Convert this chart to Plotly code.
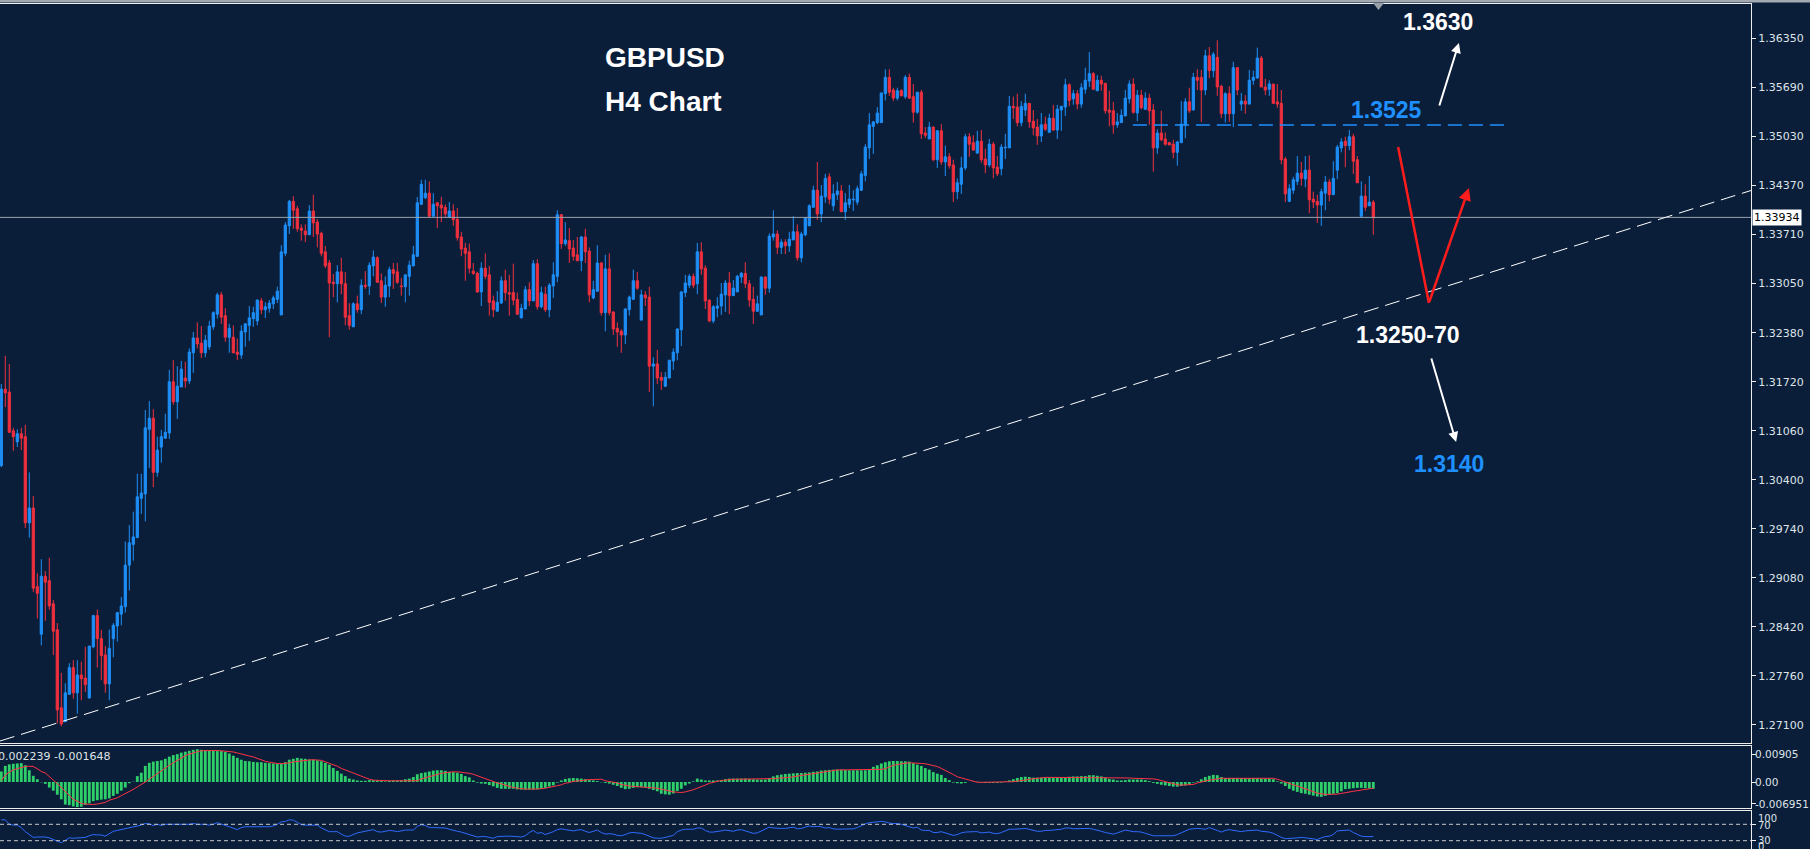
import plotly.graph_objects as go

# ---------------- data (H4 candles) ----------------
OPEN = [1.3059,1.3162,1.3158,1.3106,1.3091,1.3102,1.3098,1.2982,1.3002,1.2896,
 1.2832,1.2910,1.2904,1.2873,1.2838,1.2733,1.2714,1.2751,1.2787,1.2753,
 1.2777,1.2773,1.2746,1.2815,1.2857,1.2826,1.2804,1.2765,1.2826,1.2843,
 1.2859,1.2869,1.2925,1.2953,1.2962,1.3015,1.3021,1.3108,1.3123,1.3050,
 1.3084,1.3096,1.3103,1.3172,1.3145,1.3165,1.3177,1.3173,1.3211,1.3231,
 1.3224,1.3211,1.3219,1.3246,1.3263,1.3289,1.3261,1.3232,1.3232,1.3212,
 1.3208,1.3239,1.3248,1.3257,1.3254,1.3281,1.3269,1.3271,1.3277,1.3283,
 1.3262,1.3345,1.3382,1.3415,1.3405,1.3379,1.3375,1.3370,1.3402,1.3387,
 1.3372,1.3347,1.3332,1.3306,1.3304,1.3320,1.3304,1.3261,1.3246,1.3277,
 1.3269,1.3302,1.3301,1.3328,1.3339,1.3308,1.3286,1.3301,1.3323,1.3320,
 1.3301,1.3300,1.3314,1.3328,1.3341,1.3411,1.3420,1.3426,1.3395,1.3413,
 1.3410,1.3407,1.3394,1.3402,1.3391,1.3367,1.3352,1.3347,1.3321,1.3318,
 1.3293,1.3325,1.3316,1.3281,1.3267,1.3278,1.3308,1.3292,1.3292,1.3283,
 1.3258,1.3270,1.3296,1.3281,1.3331,1.3273,1.3290,1.3269,1.3301,1.3314,
 1.3397,1.3358,1.3362,1.3352,1.3343,1.3335,1.3367,1.3348,1.3285,1.3294,
 1.3332,1.3265,1.3324,1.3266,1.3244,1.3240,1.3235,1.3269,1.3283,1.3308,
 1.3255,1.3289,1.3286,1.3193,1.3196,1.3178,1.3166,1.3177,1.3200,1.3211,
 1.3242,1.3292,1.3302,1.3314,1.3304,1.3347,1.3325,1.3282,1.3254,1.3271,
 1.3274,1.3289,1.3305,1.3288,1.3293,1.3313,1.3318,1.3304,1.3283,1.3267,
 1.3262,1.3313,1.3298,1.3367,1.3371,1.3353,1.3360,1.3355,1.3363,1.3374,
 1.3339,1.3370,1.3382,1.3407,1.3430,1.3398,1.3421,1.3448,1.3409,1.3424,
 1.3429,1.3401,1.3411,1.3417,1.3414,1.3430,1.3450,1.3487,1.3516,1.3521,
 1.3521,1.3560,1.3582,1.3565,1.3554,1.3564,1.3556,1.3582,1.3556,1.3535,
 1.3562,1.3507,1.3499,1.3515,1.3471,1.3510,1.3468,1.3475,1.3464,1.3428,
 1.3438,1.3460,1.3502,1.3494,1.3480,1.3496,1.3472,1.3464,1.3492,1.3461,
 1.3459,1.3487,1.3487,1.3543,1.3542,1.3521,1.3538,1.3547,1.3523,1.3515,
 1.3503,1.3519,1.3508,1.3527,1.3511,1.3538,1.3542,1.3572,1.3553,1.3560,
 1.3546,1.3566,1.3577,1.3587,1.3564,1.3578,1.3574,1.3538,1.3537,1.3518,
 1.3521,1.3530,1.3553,1.3573,1.3534,1.3558,1.3539,1.3554,1.3538,1.3487,
 1.3507,1.3499,1.3494,1.3492,1.3481,1.3494,1.3518,1.3549,1.3538,1.3582,
 1.3582,1.3565,1.3611,1.3591,1.3609,1.3570,1.3533,1.3560,1.3533,1.3595,
 1.3546,1.3550,1.3546,1.3578,1.3581,1.3608,1.3569,1.3566,1.3573,1.3549,
 1.3547,1.3472,1.3415,1.3430,1.3442,1.3453,1.3445,1.3457,1.3418,1.3415,
 1.3410,1.3426,1.3441,1.3424,1.3457,1.3487,1.3496,1.3490,1.3502,1.3471,
 1.3395,1.3422,1.3409,1.3414]

HIGH = [1.3169,1.3207,1.3196,1.3110,1.3108,1.3110,1.3114,1.3050,1.3018,1.2914,
 1.2933,1.2917,1.2935,1.2878,1.2847,1.2780,1.2766,1.2793,1.2797,1.2797,
 1.2795,1.2815,1.2816,1.2858,1.2865,1.2838,1.2816,1.2838,1.2847,1.2862,
 1.2882,1.2957,1.2979,1.2997,1.3048,1.3048,1.3134,1.3146,1.3135,1.3098,
 1.3107,1.3129,1.3188,1.3201,1.3193,1.3200,1.3199,1.3217,1.3239,1.3252,
 1.3247,1.3235,1.3254,1.3267,1.3292,1.3293,1.3271,1.3250,1.3248,1.3230,
 1.3248,1.3251,1.3274,1.3273,1.3283,1.3285,1.3279,1.3282,1.3288,1.3300,
 1.3356,1.3387,1.3417,1.3422,1.3409,1.3384,1.3384,1.3410,1.3424,1.3391,
 1.3374,1.3355,1.3336,1.3317,1.3329,1.3339,1.3320,1.3278,1.3279,1.3288,
 1.3310,1.3321,1.3333,1.3349,1.3341,1.3318,1.3314,1.3327,1.3332,1.3332,
 1.3312,1.3316,1.3335,1.3355,1.3421,1.3444,1.3444,1.3442,1.3426,1.3414,
 1.3421,1.3411,1.3414,1.3411,1.3406,1.3374,1.3359,1.3358,1.3332,1.3320,
 1.3333,1.3345,1.3328,1.3288,1.3294,1.3314,1.3323,1.3316,1.3331,1.3292,
 1.3277,1.3301,1.3306,1.3336,1.3337,1.3300,1.3300,1.3305,1.3333,1.3403,
 1.3398,1.3387,1.3379,1.3363,1.3367,1.3368,1.3378,1.3353,1.3308,1.3356,
 1.3333,1.3343,1.3345,1.3267,1.3252,1.3243,1.3271,1.3288,1.3323,1.3320,
 1.3296,1.3294,1.3300,1.3205,1.3215,1.3185,1.3185,1.3201,1.3217,1.3244,
 1.3294,1.3316,1.3317,1.3318,1.3359,1.3360,1.3329,1.3283,1.3275,1.3286,
 1.3305,1.3309,1.3320,1.3309,1.3316,1.3320,1.3333,1.3309,1.3300,1.3288,
 1.3314,1.3314,1.3372,1.3403,1.3376,1.3364,1.3364,1.3374,1.3395,1.3384,
 1.3374,1.3394,1.3411,1.3436,1.3468,1.3437,1.3452,1.3453,1.3438,1.3441,
 1.3437,1.3426,1.3437,1.3430,1.3436,1.3456,1.3492,1.3534,1.3523,1.3542,
 1.3561,1.3593,1.3593,1.3568,1.3568,1.3566,1.3585,1.3587,1.3573,1.3562,
 1.3565,1.3515,1.3522,1.3516,1.3511,1.3519,1.3490,1.3480,1.3471,1.3446,
 1.3475,1.3506,1.3507,1.3504,1.3510,1.3511,1.3486,1.3499,1.3495,1.3476,
 1.3492,1.3506,1.3557,1.3556,1.3560,1.3550,1.3560,1.3547,1.3538,1.3526,
 1.3534,1.3529,1.3533,1.3545,1.3545,1.3543,1.3580,1.3574,1.3565,1.3565,
 1.3574,1.3595,1.3616,1.3589,1.3585,1.3584,1.3574,1.3564,1.3549,1.3534,
 1.3539,1.3565,1.3578,1.3581,1.3565,1.3565,1.3562,1.3560,1.3546,1.3512,
 1.3537,1.3508,1.3495,1.3498,1.3496,1.3550,1.3554,1.3568,1.3588,1.3593,
 1.3592,1.3619,1.3623,1.3616,1.3632,1.3572,1.3562,1.3570,1.3603,1.3596,
 1.3561,1.3558,1.3592,1.3591,1.3622,1.3611,1.3580,1.3578,1.3573,1.3573,
 1.3565,1.3475,1.3438,1.3448,1.3476,1.3468,1.3476,1.3477,1.3428,1.3424,
 1.3432,1.3449,1.3445,1.3469,1.3491,1.3500,1.3502,1.3511,1.3506,1.3476,
 1.3442,1.3438,1.3449,1.3417]

LOW = [1.3057,1.3138,1.3103,1.3079,1.3084,1.3080,1.2975,1.2962,1.2889,1.2853,
 1.2817,1.2850,1.2865,1.2804,1.2712,1.2708,1.2714,1.2751,1.2745,1.2725,
 1.2743,1.2754,1.2746,1.2813,1.2787,1.2770,1.2753,1.2743,1.2801,1.2822,
 1.2844,1.2861,1.2891,1.2931,1.2962,1.2994,1.2984,1.3056,1.3030,1.3044,
 1.3063,1.3095,1.3095,1.3141,1.3122,1.3165,1.3164,1.3169,1.3184,1.3217,
 1.3204,1.3205,1.3215,1.3242,1.3257,1.3250,1.3226,1.3211,1.3211,1.3201,
 1.3203,1.3219,1.3227,1.3246,1.3248,1.3263,1.3258,1.3265,1.3270,1.3278,
 1.3262,1.3341,1.3371,1.3378,1.3374,1.3362,1.3360,1.3370,1.3367,1.3353,
 1.3341,1.3325,1.3232,1.3286,1.3279,1.3290,1.3248,1.3242,1.3246,1.3265,
 1.3263,1.3297,1.3289,1.3314,1.3305,1.3278,1.3273,1.3286,1.3297,1.3304,
 1.3288,1.3279,1.3288,1.3328,1.3340,1.3410,1.3418,1.3393,1.3395,1.3379,
 1.3387,1.3393,1.3393,1.3382,1.3362,1.3341,1.3308,1.3318,1.3316,1.3292,
 1.3274,1.3310,1.3261,1.3259,1.3267,1.3277,1.3281,1.3261,1.3275,1.3262,
 1.3258,1.3270,1.3274,1.3281,1.3269,1.3271,1.3266,1.3259,1.3285,1.3306,
 1.3351,1.3355,1.3332,1.3335,1.3335,1.3321,1.3332,1.3279,1.3283,1.3293,
 1.3261,1.3240,1.3261,1.3235,1.3219,1.3211,1.3223,1.3261,1.3283,1.3296,
 1.3255,1.3274,1.3158,1.3139,1.3169,1.3161,1.3165,1.3177,1.3188,1.3201,
 1.3220,1.3286,1.3298,1.3298,1.3290,1.3316,1.3270,1.3252,1.3251,1.3259,
 1.3262,1.3266,1.3263,1.3288,1.3293,1.3305,1.3298,1.3273,1.3250,1.3266,
 1.3262,1.3289,1.3292,1.3362,1.3344,1.3344,1.3344,1.3347,1.3363,1.3335,
 1.3333,1.3368,1.3382,1.3407,1.3390,1.3387,1.3413,1.3411,1.3402,1.3417,
 1.3401,1.3390,1.3406,1.3402,1.3410,1.3429,1.3442,1.3472,1.3479,1.3519,
 1.3521,1.3551,1.3557,1.3550,1.3551,1.3557,1.3553,1.3553,1.3521,1.3533,
 1.3499,1.3500,1.3499,1.3469,1.3460,1.3464,1.3449,1.3459,1.3414,1.3418,
 1.3425,1.3457,1.3475,1.3484,1.3479,1.3467,1.3453,1.3461,1.3446,1.3449,
 1.3450,1.3472,1.3487,1.3526,1.3516,1.3516,1.3530,1.3514,1.3504,1.3491,
 1.3495,1.3510,1.3508,1.3510,1.3499,1.3510,1.3530,1.3543,1.3545,1.3539,
 1.3541,1.3560,1.3569,1.3565,1.3564,1.3564,1.3533,1.3516,1.3506,1.3514,
 1.3521,1.3530,1.3547,1.3533,1.3523,1.3539,1.3538,1.3518,1.3455,1.3479,
 1.3496,1.3490,1.3491,1.3473,1.3463,1.3494,1.3500,1.3534,1.3538,1.3565,
 1.3522,1.3558,1.3581,1.3582,1.3557,1.3527,1.3521,1.3522,1.3515,1.3558,
 1.3537,1.3533,1.3546,1.3572,1.3581,1.3569,1.3558,1.3557,1.3547,1.3541,
 1.3465,1.3414,1.3414,1.3425,1.3437,1.3436,1.3434,1.3399,1.3406,1.3386,
 1.3382,1.3403,1.3415,1.3424,1.3445,1.3481,1.3461,1.3484,1.3452,1.3440,
 1.3394,1.3402,1.3409,1.3370]

CLOSE = [1.3162,1.3157,1.3104,1.3098,1.3102,1.3096,1.2982,1.3002,1.2894,1.2887,
 1.2910,1.2902,1.2870,1.2836,1.2730,1.2711,1.2753,1.2787,1.2753,1.2777,
 1.2772,1.2764,1.2816,1.2857,1.2826,1.2803,1.2765,1.2813,1.2844,1.2861,
 1.2870,1.2925,1.2955,1.2963,1.3017,1.3022,1.3110,1.3123,1.3050,1.3080,
 1.3098,1.3104,1.3172,1.3145,1.3166,1.3189,1.3173,1.3212,1.3231,1.3223,
 1.3211,1.3228,1.3247,1.3265,1.3289,1.3259,1.3232,1.3244,1.3211,1.3209,
 1.3240,1.3250,1.3258,1.3265,1.3282,1.3269,1.3273,1.3278,1.3285,1.3294,
 1.3347,1.3383,1.3415,1.3403,1.3378,1.3376,1.3370,1.3402,1.3386,1.3371,
 1.3345,1.3328,1.3305,1.3304,1.3320,1.3304,1.3259,1.3248,1.3277,1.3269,
 1.3302,1.3300,1.3329,1.3340,1.3306,1.3286,1.3302,1.3323,1.3318,1.3306,
 1.3300,1.3316,1.3329,1.3343,1.3413,1.3438,1.3426,1.3395,1.3411,1.3409,
 1.3406,1.3398,1.3402,1.3390,1.3366,1.3351,1.3345,1.3325,1.3318,1.3293,
 1.3325,1.3314,1.3279,1.3269,1.3279,1.3308,1.3292,1.3290,1.3282,1.3263,
 1.3271,1.3296,1.3281,1.3331,1.3273,1.3292,1.3269,1.3302,1.3316,1.3397,
 1.3358,1.3363,1.3351,1.3341,1.3335,1.3367,1.3347,1.3289,1.3296,1.3332,
 1.3265,1.3324,1.3265,1.3243,1.3239,1.3235,1.3270,1.3286,1.3308,1.3298,
 1.3289,1.3285,1.3193,1.3196,1.3177,1.3174,1.3178,1.3201,1.3212,1.3243,
 1.3293,1.3305,1.3314,1.3302,1.3347,1.3324,1.3281,1.3254,1.3273,1.3274,
 1.3290,1.3305,1.3288,1.3298,1.3314,1.3318,1.3304,1.3282,1.3267,1.3277,
 1.3313,1.3298,1.3368,1.3371,1.3353,1.3360,1.3355,1.3364,1.3374,1.3339,
 1.3371,1.3393,1.3409,1.3430,1.3398,1.3422,1.3446,1.3418,1.3425,1.3429,
 1.3401,1.3413,1.3418,1.3418,1.3432,1.3452,1.3488,1.3518,1.3522,1.3534,
 1.3561,1.3582,1.3562,1.3554,1.3564,1.3557,1.3582,1.3554,1.3535,1.3562,
 1.3506,1.3504,1.3515,1.3471,1.3510,1.3468,1.3475,1.3463,1.3428,1.3440,
 1.3460,1.3502,1.3492,1.3484,1.3496,1.3471,1.3464,1.3492,1.3460,1.3452,
 1.3488,1.3488,1.3543,1.3541,1.3521,1.3543,1.3547,1.3522,1.3514,1.3503,
 1.3518,1.3512,1.3527,1.3511,1.3539,1.3543,1.3572,1.3551,1.3560,1.3546,
 1.3568,1.3578,1.3587,1.3566,1.3578,1.3573,1.3537,1.3535,1.3518,1.3522,
 1.3531,1.3554,1.3573,1.3535,1.3558,1.3541,1.3554,1.3537,1.3487,1.3507,
 1.3498,1.3492,1.3491,1.3481,1.3495,1.3519,1.3549,1.3537,1.3582,1.3578,
 1.3565,1.3611,1.3591,1.3613,1.3569,1.3533,1.3560,1.3533,1.3595,1.3565,
 1.3550,1.3546,1.3578,1.3582,1.3608,1.3569,1.3565,1.3573,1.3547,1.3546,
 1.3471,1.3425,1.3432,1.3444,1.3453,1.3446,1.3457,1.3417,1.3414,1.3410,
 1.3428,1.3441,1.3424,1.3446,1.3488,1.3495,1.3490,1.3502,1.3469,1.3440,
 1.3422,1.3407,1.3414,1.3393]

# MACD(12,26,9) histogram and signal, in units of 1e-4
MACD_HIST_E4 = [34,52,57,59,60,61,54,38,20,9,
 -1,-6,-18,-28,-41,-56,-73,-75,-79,-81,
 -80,-74,-69,-62,-59,-57,-56,-53,-45,-38,
 -28,-18,-4,1,19,30,52,62,66,68,
 70,75,82,87,90,95,98,101,104,106,
 104,103,101,101,100,100,97,92,85,78,
 72,68,67,65,64,64,62,61,60,59,
 60,64,72,75,78,76,75,73,72,70,
 67,62,56,45,36,27,19,11,8,5,
 4,4,6,6,5,3,2,4,5,5,
 6,9,11,16,25,29,31,34,37,38,
 38,36,33,32,30,26,19,15,5,-2,
 -5,-6,-10,-14,-19,-22,-22,-22,-22,-24,
 -25,-25,-25,-25,-24,-22,-19,-15,-11,-2,
 5,10,12,13,12,11,9,6,5,3,
 -1,-3,-5,-9,-13,-19,-23,-22,-19,-17,
 -17,-18,-22,-26,-30,-38,-40,-41,-37,-29,
 -22,-11,-5,2,11,8,5,5,5,5,
 6,9,11,11,11,11,11,10,9,8,
 8,8,13,18,22,24,26,27,28,29,
 29,30,31,33,34,37,38,39,40,40,
 40,39,38,38,38,38,38,41,49,54,
 60,64,67,68,68,67,67,66,61,56,
 52,45,40,32,27,23,13,6,-2,-4,
 -5,-3,0,1,1,-2,-3,-3,-3,-3,
 -2,2,5,9,13,16,17,16,14,14,
 14,14,14,13,13,13,15,17,18,18,
 19,19,22,22,20,18,14,10,8,5,
 5,6,8,8,8,8,6,3,-3,-6,
 -9,-11,-13,-15,-15,-13,-11,-9,-2,2,
 9,16,20,23,22,16,13,13,13,13,
 13,12,12,13,13,11,11,11,9,2,
 -5,-13,-22,-28,-32,-36,-38,-41,-44,-47,
 -48,-45,-41,-38,-36,-30,-23,-22,-20,-19,
 -19,-20,-21,-22]

MACD_SIGNAL_E4 = [5,22,32,39,43,47,50,51,50,43,
 34,29,16,6,-5,-18,-32,-43,-56,-62,
 -69,-71,-72,-73,-71,-69,-66,-59,-55,-51,
 -44,-38,-31,-24,-16,-9,0,9,18,28,
 38,46,54,62,70,79,85,90,95,98,
 101,102,102,102,102,101,100,99,97,94,
 90,87,84,81,76,72,67,64,61,60,
 59,60,62,65,67,68,70,71,72,72,
 70,65,61,55,51,44,39,33,28,22,
 17,12,9,6,5,4,3,4,4,4,
 4,4,4,4,4,10,14,18,22,25,
 28,30,32,33,33,32,30,28,25,20,
 16,11,5,1,-3,-6,-11,-14,-18,-20,
 -22,-23,-23,-23,-23,-22,-20,-18,-15,-12,
 -9,-4,-2,2,3,5,6,8,8,8,
 9,4,2,-1,-3,-8,-11,-13,-14,-15,
 -16,-17,-17,-19,-20,-23,-26,-30,-32,-33,
 -34,-32,-29,-25,-20,-16,-10,-4,-1,3,
 5,6,8,9,9,9,9,9,9,9,
 9,9,9,11,12,12,14,15,17,18,
 20,23,25,27,29,31,33,36,38,39,
 39,39,39,39,39,39,39,39,39,40,
 41,43,48,54,56,59,61,62,62,61,
 60,59,56,53,50,44,38,30,24,17,
 13,9,5,2,-1,-1,-1,-1,-1,-1,
 -1,-1,0,1,3,4,6,9,11,13,
 14,15,15,15,15,15,15,15,15,15,
 15,15,15,15,15,15,15,15,15,15,
 15,14,13,12,12,12,12,12,10,8,
 4,1,-2,-5,-9,-10,-10,-9,-8,-3,
 1,3,6,9,10,12,12,12,12,12,
 12,12,12,12,12,12,12,12,12,9,
 4,0,-4,-9,-13,-17,-22,-27,-31,-36,
 -39,-40,-40,-40,-39,-37,-34,-32,-30,-28,
 -26,-24,-22,-20]

RSI = [81,81,70,68,68,62,52,45,38,39,
 39,39,37,33,29,25,31,37,36,37,
 37,38,42,45,44,44,41,48,53,55,
 57,59,61,64,66,68,72,71,67,70,
 67,70,70,70,70,70,70,70,72,70,
 70,70,68,70,74,70,67,64,60,57,
 62,64,64,64,64,64,64,64,66,70,
 76,77,81,80,75,69,68,68,68,68,
 61,57,52,52,52,46,41,41,46,49,
 51,53,55,57,52,51,53,55,54,52,
 54,56,56,56,65,69,67,62,62,62,
 62,61,58,55,53,51,48,45,41,39,
 40,40,38,36,40,41,41,41,41,40,
 39,42,50,55,48,50,45,48,52,57,
 59,57,55,54,56,57,53,50,53,56,
 50,46,47,46,43,42,45,49,50,49,
 48,45,40,37,36,36,38,40,43,52,
 56,58,58,58,61,61,55,51,51,52,
 54,56,54,53,56,57,54,51,48,49,
 54,60,63,61,60,60,60,61,63,59,
 60,63,66,64,65,64,61,62,59,58,
 58,58,58,59,62,67,71,74,75,76,
 77,76,73,72,72,70,67,63,61,63,
 56,55,55,50,50,52,49,46,43,45,
 49,51,52,52,52,49,50,51,48,47,
 50,54,58,58,58,59,60,58,55,53,
 53,55,55,56,57,58,61,61,59,59,
 60,60,60,58,56,53,50,48,46,49,
 52,56,54,52,52,51,48,45,42,42,
 42,42,42,42,45,50,54,58,59,60,
 59,58,62,59,55,51,55,57,55,53,
 52,54,55,56,56,53,52,51,48,42,
 38,35,35,36,37,38,37,36,34,33,
 37,40,41,45,54,55,55,56,50,45,
 41,40,40,40]

PRICE_TICKS = [1.36350, 1.35690, 1.35030, 1.34370, 1.33710, 1.33050, 1.32380,
               1.31720, 1.31060, 1.30400, 1.29740, 1.29080, 1.28420, 1.27760, 1.27100]
MACD_TICKS = [0.00905, 0.0, -0.006951]
MACD_TICK_TEXT = ["0.00905", "0.00", "-0.006951"]
RSI_LEVELS = [70, 30]
LAST_PRICE = 1.33934
MACD_LABEL = "0.002239 -0.001648"

# analysis drawings (index, price)
RESIST_LINE = (282.9, 377.0, 1.35178)
TREND_LINE = (-0.325, 1.26881, 437.425, 1.34296)
RED_PATH = [(349.2, 1.34882), (356.9, 1.32781), (366.9, 1.34330)]
UP_ARROW = [(359.4, 1.35421), (364.4, 1.36283)]
DOWN_ARROW = [(357.4, 1.32053), (363.7, 1.30908)]

# ---------------- styling ----------------
BG = "#0a1e3a"
BULL = "#1e8ff8"
BEAR = "#f0303f"
FRAME = "#eeeeee"
TXT = "#dfe3e8"
GREEN = "#2fcf6a"
SIG = "#ff3344"
RSI_C = "#2f6bff"
H = 849.0
PLOT_W = 1751.0

n = len(CLOSE)
idx = list(range(n))
bull = [i for i in idx if CLOSE[i] >= OPEN[i]]
bear = [i for i in idx if CLOSE[i] < OPEN[i]]

fig = go.Figure()


def wicks(ids):
    xs, ys = [], []
    for i in ids:
        xs += [i, i, None]
        ys += [LOW[i], HIGH[i], None]
    return xs, ys


for ids, col in ((bull, BULL), (bear, BEAR)):
    wx, wy = wicks(ids)
    fig.add_trace(go.Scatter(x=wx, y=wy, mode="lines", line=dict(color=col, width=1),
                             hoverinfo="skip", showlegend=False, xaxis="x", yaxis="y"))
    fig.add_trace(go.Bar(x=ids, y=[abs(CLOSE[i] - OPEN[i]) for i in ids],
                         base=[min(OPEN[i], CLOSE[i]) for i in ids], width=0.55,
                         marker=dict(color=col, line=dict(color=col, width=1)),
                         hoverinfo="skip", showlegend=False, xaxis="x", yaxis="y"))

fig.add_trace(go.Bar(x=idx, y=[v * 1e-4 for v in MACD_HIST_E4], width=0.7,
                     marker=dict(color=GREEN, line=dict(width=0)),
                     hoverinfo="skip", showlegend=False, xaxis="x2", yaxis="y2"))
fig.add_trace(go.Scatter(x=idx, y=[v * 1e-4 for v in MACD_SIGNAL_E4], mode="lines",
                         line=dict(color=SIG, width=1), hoverinfo="skip",
                         showlegend=False, xaxis="x2", yaxis="y2"))
fig.add_trace(go.Scatter(x=idx, y=RSI, mode="lines", line=dict(color=RSI_C, width=1),
                         hoverinfo="skip", showlegend=False, xaxis="x3", yaxis="y3"))

XR = [-0.325, 437.425]
ax_common = dict(range=XR, showticklabels=False, showgrid=False, zeroline=False,
                 showline=True, mirror=True, linecolor=FRAME, linewidth=1, ticks="",
                 fixedrange=True)
y_common = dict(side="right", showgrid=False, zeroline=False, showline=True, mirror=True,
                linecolor=FRAME, linewidth=1, ticks="outside", ticklen=4, tickcolor=FRAME,
                tickfont=dict(family="DejaVu Sans", size=11, color=TXT), automargin=False,
                fixedrange=True)


def ypx(p):
    return 1 - p / H


fig.update_layout(
    width=1810, height=849, autosize=False,
    margin=dict(l=0, r=1810 - PLOT_W, t=0, b=0, pad=0),
    paper_bgcolor=BG, plot_bgcolor=BG, barmode="overlay", showlegend=False,
    xaxis=dict(anchor="y", **ax_common),
    xaxis2=dict(anchor="y2", matches="x", **ax_common),
    xaxis3=dict(anchor="y3", matches="x", **ax_common),
    yaxis=dict(anchor="x", domain=[ypx(743), ypx(4)], range=[1.268544, 1.36808],
               tickvals=PRICE_TICKS, ticktext=[f"{v:.5f}" for v in PRICE_TICKS], **y_common),
    yaxis2=dict(anchor="x2", domain=[ypx(808), ypx(746)], range=[-0.008404, 0.011636],
                tickvals=MACD_TICKS, showticklabels=False, **y_common),
    yaxis3=dict(anchor="x3", domain=[0, ypx(811)], range=[9.76, 102.44],
                tickvals=RSI_LEVELS, showticklabels=False, **y_common),
)

shapes = []
# top grey band and chart-shift marker
shapes.append(dict(type="rect", xref="paper", yref="paper", x0=0, x1=1810 / PLOT_W,
                   y0=ypx(2.6), y1=1, fillcolor="#a3a9b1", line=dict(width=0), layer="above"))
tx0, tx1, tx2 = 1373 / PLOT_W, 1384 / PLOT_W, 1378.5 / PLOT_W
shapes.append(dict(type="path", xref="paper", yref="paper",
                   path=f"M {tx0},{ypx(3)} L {tx1},{ypx(3)} L {tx2},{ypx(10)} Z",
                   fillcolor="#9aa0a8", line=dict(width=0)))
# last price line
shapes.append(dict(type="line", xref="paper", yref="y", x0=0, x1=1, y0=LAST_PRICE,
                   y1=LAST_PRICE, line=dict(color="#9aa4ae", width=1)))
# trend line
shapes.append(dict(type="line", xref="x", yref="y", x0=TREND_LINE[0], y0=TREND_LINE[1],
                   x1=TREND_LINE[2], y1=TREND_LINE[3],
                   line=dict(color="#ffffff", width=1, dash="15px,7px")))
# resistance dashed line
shapes.append(dict(type="line", xref="x", yref="y", x0=RESIST_LINE[0], x1=RESIST_LINE[1],
                   y0=RESIST_LINE[2], y1=RESIST_LINE[2],
                   line=dict(color="#1e90ff", width=1.5, dash="14px,7px")))
# red path first leg
shapes.append(dict(type="line", xref="x", yref="y", x0=RED_PATH[0][0], y0=RED_PATH[0][1],
                   x1=RED_PATH[1][0], y1=RED_PATH[1][1],
                   line=dict(color="#ff1c1c", width=2.5)))
# RSI levels
for lv in RSI_LEVELS:
    shapes.append(dict(type="line", xref="paper", yref="y3", x0=0, x1=1, y0=lv, y1=lv,
                       line=dict(color="#c8c8c8", width=1, dash="4px,3px")))
fig.update_layout(shapes=shapes)

ann = []


def label(text, x, y, size, color, anchor="center"):
    ann.append(dict(text=f"<b>{text}</b>", x=x, y=y, xref="x", yref="y", showarrow=False,
                    xanchor=anchor, yanchor="middle",
                    font=dict(family="Liberation Sans, Arial", size=size, color=color)))


label("GBPUSD", 150.5, 1.36094, 28, "#ffffff", "left")
label("H4 Chart", 150.5, 1.35501, 28, "#ffffff", "left")
label("1.3630", 359.2, 1.36565, 23, "#ffffff")
label("1.3525", 346.2, 1.35380, 23, "#1e90ff")
label("1.3250-70", 351.7, 1.32350, 23, "#ffffff")
label("1.3140", 361.9, 1.30612, 23, "#1e90ff")


def arrow(tail, head, color, width):
    ann.append(dict(text="", x=head[0], y=head[1], xref="x", yref="y",
                    ax=tail[0], ay=tail[1], axref="x", ayref="y", showarrow=True,
                    arrowhead=2, arrowsize=1, arrowwidth=width, arrowcolor=color,
                    standoff=0, startstandoff=0))


arrow(UP_ARROW[0], UP_ARROW[1], "#ffffff", 2)
arrow(DOWN_ARROW[0], DOWN_ARROW[1], "#ffffff", 2)
arrow(RED_PATH[1], RED_PATH[2], "#ff1c1c", 2.5)

# last price tag
ann.append(dict(text="1.33934", x=1, y=LAST_PRICE, xref="paper", yref="y", xanchor="left",
                yanchor="middle", showarrow=False, xshift=1, bgcolor="#ffffff", borderpad=1,
                font=dict(family="DejaVu Sans", size=11, color="#000000")))
# MACD scale labels (placed next to the MACD axis)
for t, v in zip(MACD_TICK_TEXT, MACD_TICKS):
    ann.append(dict(text=t, x=1, y=v, xref="paper", yref="y2", xanchor="left",
                    yanchor="middle", showarrow=False, xshift=2,
                    font=dict(family="DejaVu Sans", size=10.5, color=TXT)))
# MACD values label
ann.append(dict(text=MACD_LABEL, x=0, y=ypx(756), xref="paper", yref="paper",
                xanchor="left", yanchor="middle", showarrow=False, xshift=-4,
                font=dict(family="DejaVu Sans", size=11, color=TXT)))
# RSI scale labels
for t, py in (("100", 818), ("70", 825), ("30", 840), ("0", 846)):
    ann.append(dict(text=t, x=1, y=ypx(py), xref="paper", yref="paper", xanchor="left",
                    yanchor="middle", showarrow=False, xshift=5,
                    font=dict(family="DejaVu Sans", size=10, color=TXT)))
fig.update_layout(annotations=ann)

fig.write_html("out.html", config={"displayModeBar": False, "staticPlot": True},
               post_script="document.body.style.margin='0';document.body.style.overflow='hidden';")
